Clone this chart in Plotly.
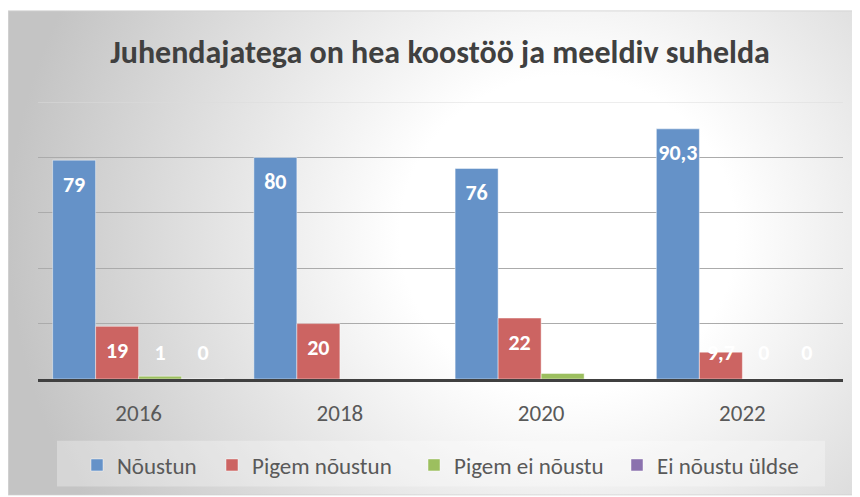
import base64
import plotly.graph_objects as go

# ---- data ----
years = ["2016", "2018", "2020", "2022"]
series_names = ["Nõustun", "Pigem nõustun", "Pigem ei nõustu", "Ei nõustu üldse"]
noustun = [79, 80, 76, 90.3]
pigem_noustun = [19, 20, 22, 9.7]
pigem_ei_noustu = [1, None, 2, 0]
ei_noustu_uldse = [0, None, None, 0]
title_text = "Juhendajatega on hea koostöö ja meeldiv suhelda"

series_values = [noustun, pigem_noustun, pigem_ei_noustu, ei_noustu_uldse]
colors = ["#6592C8", "#CC6462", "#9CBF5F", "#8B72AE"]
legend_marker_px = [93, 228, 430, 633]   # screen x of each legend square

FONT = "Carlito, Lato, 'Open Sans', sans-serif"
BAR_W = 0.2137
n_series = len(series_names)

# page offset (body margin) -> work in screen pixels, convert to figure pixels
OFF = 8
W, H = 860 - OFF, 497 - OFF
L, R_EDGE, T, B_EDGE = 38 - OFF, 843 - OFF, 102 - OFF, 380 - OFF
pw, ph = R_EDGE - L, B_EDGE - T

def px_x(p):
    return (p - OFF - L) / pw

def px_y(p):
    return (B_EDGE - (p - OFF)) / ph

svg = f'''<svg xmlns="http://www.w3.org/2000/svg" width="850" height="487" viewBox="0 0 850 487">
<defs><radialGradient id="g" gradientUnits="userSpaceOnUse" cx="560" cy="225" r="560" gradientTransform="translate(560 225) scale(1 0.95) translate(-560 -225)">
<stop offset="0" stop-color="#ffffff"/><stop offset="0.3" stop-color="#ffffff"/><stop offset="1" stop-color="#c4c4c4"/></radialGradient></defs>
<rect x="0.5" y="0.5" width="849" height="486" fill="url(#g)" stroke="#d0d0d0" stroke-width="1"/></svg>'''
src = "data:image/svg+xml;base64," + base64.b64encode(svg.encode()).decode()

fig = go.Figure()

for k, (name, vals, col) in enumerate(zip(series_names, series_values, colors)):
    xs = list(range(len(years)))
    fig.add_trace(go.Bar(
        x=xs, y=vals, name=name, width=BAR_W, offset=-n_series / 2 * BAR_W + k * BAR_W,
        marker=dict(color=col, line=dict(color="rgba(255,255,255,0.45)", width=1)),
        hoverinfo="skip", legend="legend" if k == 0 else f"legend{k + 1}",
    ))

for k, vals in enumerate(series_values):
    lx, ly, lt = [], [], []
    for i, v in enumerate(vals):
        if v is None:
            continue
        lx.append(i - n_series / 2 * BAR_W + (k + 0.5) * BAR_W)
        ly.append(max(v - 9.4, 9))
        lt.append(f"{v:g}".replace(".", ","))
    fig.add_trace(go.Scatter(
        x=lx, y=ly, text=lt, mode="text", showlegend=False, hoverinfo="skip",
        textfont=dict(family=FONT, size=22, color="white", weight="bold"),
    ))

legend_common = dict(orientation="h", xanchor="left", y=px_y(465), yanchor="middle",
                     bgcolor="rgba(0,0,0,0)", font=dict(family=FONT, size=23, color="#595959"),
                     itemwidth=30)
legends = {}
for k, mx in enumerate(legend_marker_px):
    key = "legend" if k == 0 else f"legend{k + 1}"
    legends[key] = dict(legend_common, x=px_x(mx - 16))

fig.update_layout(
    width=W, height=H,
    margin=dict(l=L, r=W - R_EDGE, t=T, b=H - B_EDGE),
    paper_bgcolor="white", plot_bgcolor="rgba(0,0,0,0)",
    barmode="overlay",
    title=dict(text=title_text, x=(440 - OFF) / W, xanchor="center", y=1 - (52 - OFF) / H, yanchor="middle",
               font=dict(family=FONT, size=32, color="#404040", weight="bold")),
    xaxis=dict(range=[-0.5, len(years) - 0.5], tickvals=list(range(len(years))), ticktext=years,
               showgrid=False, zeroline=False, showline=True, linecolor="#404040", linewidth=3,
               ticks="outside", ticklen=11, tickcolor="rgba(0,0,0,0)",
               tickfont=dict(family=FONT, size=23, color="#595959")),
    yaxis=dict(range=[0, 100], tickvals=[0, 20, 40, 60, 80], showticklabels=False,
               showgrid=True, gridcolor="#ababab", gridwidth=1, zeroline=False),
    images=[dict(source=src, xref="paper", yref="paper", x=px_x(8), y=px_y(10),
                 sizex=850 / pw, sizey=487 / ph, sizing="stretch", layer="below",
                 xanchor="left", yanchor="top")],
    shapes=[dict(type="rect", xref="paper", yref="paper", x0=px_x(57), x1=px_x(825),
                 y0=px_y(488), y1=px_y(442), fillcolor="rgba(255,255,255,0.3)",
                 line=dict(width=0), layer="below"),
            dict(type="line", xref="paper", yref="y", x0=0, x1=1, y0=100, y1=100,
                 line=dict(color="#dcdcdc", width=1), layer="below")],
    showlegend=True,
    **legends,
)

fig.write_html("out.html")
